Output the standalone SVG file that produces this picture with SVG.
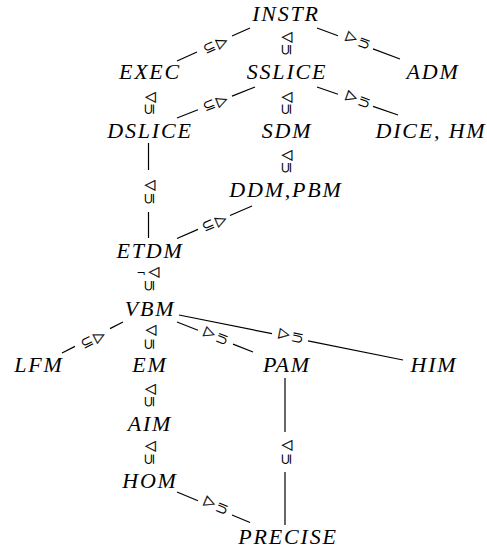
<svg xmlns="http://www.w3.org/2000/svg" width="487" height="548" viewBox="0 0 487 548">
  <style>
    .n { font-family: 'Liberation Serif', serif; font-style: italic; font-size: 22px; letter-spacing: 1.8px; text-anchor: middle; fill: #000; }
    .s { font-family: 'DejaVu Sans', sans-serif; font-size: 15px; text-anchor: middle; dominant-baseline: central; fill: #000; }
    .t { font-size: 14px; stroke: #000; stroke-width: 0.3; }
    .e line { stroke: #000; stroke-width: 1.2; }
  </style>
  <rect width="487" height="548" fill="#fff"/>

  <!-- connectors: each edge is a line broken around its relation label -->
  <g id="connectors" class="e">
    <!-- INSTR - EXEC -->
    <g id="e-instr-exec">
      <line x1="177" y1="61" x2="197" y2="52"/>
      <line x1="232" y1="36" x2="250" y2="28"/>
      <text class="s" transform="translate(215 44.5) rotate(-24)">⊆<tspan class="t" dx="2">▷</tspan></text>
    </g>
    <!-- INSTR - SSLICE -->
    <g id="e-instr-sslice">
      <text class="s t" x="287" y="36">◁</text>
      <text class="s" transform="translate(285.5 49.5) rotate(-90)">⊆</text>
    </g>
    <!-- INSTR - ADM -->
    <g id="e-instr-adm">
      <line x1="317" y1="28" x2="338" y2="35.8"/>
      <line x1="373" y1="48.9" x2="400" y2="59"/>
      <text class="s" transform="translate(358 41.5) rotate(200.5)">⊆<tspan class="t" dx="2">◁</tspan></text>
    </g>
    <!-- EXEC - DSLICE -->
    <g id="e-exec-dslice">
      <text class="s t" x="150.5" y="95.5">◁</text>
      <text class="s" transform="translate(149 109) rotate(-90)">⊆</text>
    </g>
    <!-- SSLICE - DSLICE -->
    <g id="e-sslice-dslice">
      <line x1="177" y1="118" x2="198" y2="109.7"/>
      <line x1="232" y1="96.1" x2="255" y2="87"/>
      <text class="s" transform="translate(215 102.5) rotate(-21.7)">⊆<tspan class="t" dx="2">▷</tspan></text>
    </g>
    <!-- SSLICE - SDM -->
    <g id="e-sslice-sdm">
      <text class="s t" x="287" y="95.5">◁</text>
      <text class="s" transform="translate(285.5 109) rotate(-90)">⊆</text>
    </g>
    <!-- SSLICE - DICE, HM -->
    <g id="e-sslice-dice">
      <line x1="317" y1="87" x2="338" y2="94.3"/>
      <line x1="373" y1="106.4" x2="398" y2="115"/>
      <text class="s" transform="translate(358 100.5) rotate(199.5)">⊆<tspan class="t" dx="2">◁</tspan></text>
    </g>
    <!-- SDM - DDM,PBM -->
    <g id="e-sdm-ddm">
      <text class="s t" x="287" y="154">◁</text>
      <text class="s" transform="translate(285.5 167.5) rotate(-90)">⊆</text>
    </g>
    <!-- DSLICE - ETDM -->
    <g id="e-dslice-etdm">
      <line x1="148.5" y1="143" x2="148.5" y2="170"/>
      <line x1="148.5" y1="212" x2="148.5" y2="238"/>
      <text class="s t" x="150" y="183.5">◁</text>
      <text class="s" transform="translate(148.5 198.5) rotate(-90)">⊆</text>
    </g>
    <!-- DDM,PBM - ETDM -->
    <g id="e-ddm-etdm">
      <line x1="177" y1="238.5" x2="198" y2="229.4"/>
      <line x1="230" y1="215.5" x2="252" y2="206"/>
      <text class="s" transform="translate(214 222.5) rotate(-23.4)">⊆<tspan class="t" dx="2">▷</tspan></text>
    </g>
    <!-- ETDM - VBM -->
    <g id="e-etdm-vbm">
      <text class="s" x="141" y="273" style="font-size:11px">¬</text>
      <text class="s t" x="154" y="271">◁</text>
      <text class="s" transform="translate(148.5 285.5) rotate(-90)">⊆</text>
    </g>
    <!-- VBM - LFM -->
    <g id="e-vbm-lfm">
      <line x1="62" y1="353" x2="75" y2="346.4"/>
      <line x1="110" y1="328.6" x2="123" y2="322"/>
      <text class="s" transform="translate(92.5 339) rotate(-26.9)">⊆<tspan class="t" dx="2">▷</tspan></text>
    </g>
    <!-- VBM - EM -->
    <g id="e-vbm-em">
      <text class="s t" x="151" y="329">◁</text>
      <text class="s" transform="translate(148.5 344) rotate(-90)">⊆</text>
    </g>
    <!-- VBM - PAM -->
    <g id="e-vbm-pam">
      <line x1="177" y1="322" x2="198" y2="330.3"/>
      <line x1="233" y1="344.1" x2="253" y2="352"/>
      <text class="s" transform="translate(216 337) rotate(201.5)">⊆<tspan class="t" dx="2">◁</tspan></text>
    </g>
    <!-- VBM - HIM -->
    <g id="e-vbm-him">
      <line x1="179" y1="315" x2="272" y2="333.7"/>
      <line x1="308" y1="340.9" x2="403" y2="360"/>
      <text class="s" transform="translate(291 337) rotate(191.4)">⊆<tspan class="t" dx="2">◁</tspan></text>
    </g>
    <!-- EM - AIM -->
    <g id="e-em-aim">
      <text class="s t" x="150.5" y="387.5">◁</text>
      <text class="s" transform="translate(148.5 401.5) rotate(-90)">⊆</text>
    </g>
    <!-- AIM - HOM -->
    <g id="e-aim-hom">
      <text class="s t" x="150.5" y="445">◁</text>
      <text class="s" transform="translate(148.5 459) rotate(-90)">⊆</text>
    </g>
    <!-- HOM - PRECISE -->
    <g id="e-hom-precise">
      <line x1="177" y1="492" x2="198" y2="500.8"/>
      <line x1="232" y1="515" x2="250" y2="522.5"/>
      <text class="s" transform="translate(216 506.5) rotate(202.7)">⊆<tspan class="t" dx="2">◁</tspan></text>
    </g>
    <!-- PAM - PRECISE -->
    <g id="e-pam-precise">
      <line x1="285" y1="378" x2="285" y2="432"/>
      <line x1="285" y1="472" x2="285" y2="525"/>
      <text class="s t" x="287" y="444">◁</text>
      <text class="s" transform="translate(285.5 459) rotate(-90)">⊆</text>
    </g>
  </g>

  <!-- nodes -->
  <g id="INSTR"><text class="n" x="286" y="21">INSTR</text></g>
  <g id="EXEC"><text class="n" x="150" y="79">EXEC</text></g>
  <g id="SSLICE"><text class="n" x="287" y="79">SSLICE</text></g>
  <g id="ADM"><text class="n" x="433" y="79">ADM</text></g>
  <g id="DSLICE"><text class="n" x="150" y="138">DSLICE</text></g>
  <g id="SDM"><text class="n" x="287" y="138">SDM</text></g>
  <g id="DICE_HM"><text class="n" x="431" y="138">DICE, HM</text></g>
  <g id="DDM_PBM"><text class="n" x="286" y="197">DDM,PBM</text></g>
  <g id="ETDM"><text class="n" x="150" y="258">ETDM</text></g>
  <g id="VBM"><text class="n" x="150" y="316">VBM</text></g>
  <g id="LFM"><text class="n" x="39" y="372">LFM</text></g>
  <g id="EM"><text class="n" x="150" y="372">EM</text></g>
  <g id="PAM"><text class="n" x="287" y="372">PAM</text></g>
  <g id="HIM"><text class="n" x="434" y="372">HIM</text></g>
  <g id="AIM"><text class="n" x="150" y="431">AIM</text></g>
  <g id="HOM"><text class="n" x="150" y="488">HOM</text></g>
  <g id="PRECISE"><text class="n" x="288" y="544">PRECISE</text></g>
</svg>
